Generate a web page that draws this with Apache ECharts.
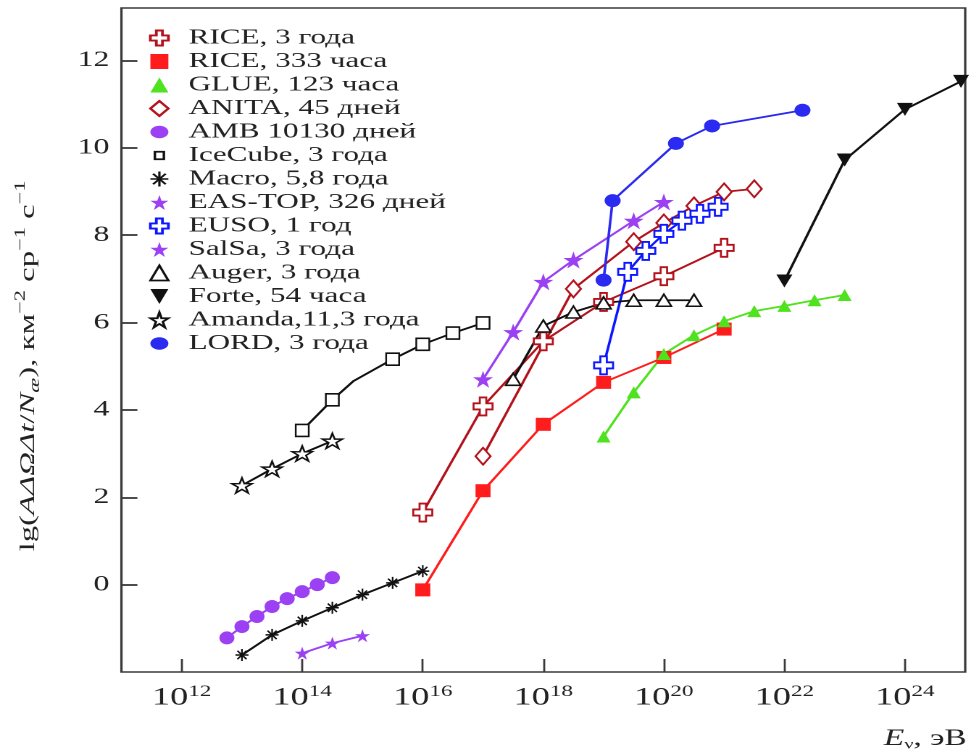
<!DOCTYPE html>
<html>
<head>
<meta charset="utf-8">
<script src="https://cdn.jsdelivr.net/npm/echarts@6/dist/echarts.min.js"></script>
<style>
  html, body { margin: 0; padding: 0; background: #fff; overflow: hidden; }
  #wrap { width: 971px; height: 756px; overflow: hidden; }
  /* the figure uses a wide typeface: the drawing is laid out narrow and widened */
  #chart { width: 670px; height: 756px; transform-origin: 0 0; }
</style>
</head>
<body>
<div id="wrap"><div id="chart"></div></div>
<script>
// x values are lg(E, эВ); y values are lg(AΔΩΔt/Nж)
const riceYearsLgE = [16, 17, 18, 19, 20, 21];
const riceYearsVal = [1.65, 4.08, 5.57, 6.47, 7.06, 7.71];

const rice333LgE = [16, 17, 18, 19, 20, 21];
const rice333Val = [-0.12, 2.15, 3.67, 4.63, 5.2, 5.85];

const glueLgE = [19, 19.5, 20, 20.5, 21, 21.5, 22, 22.5, 23];
const glueVal = [3.39, 4.4, 5.28, 5.71, 6.03, 6.26, 6.38, 6.51, 6.63];

const anitaLgE = [17, 18.5, 19.5, 20, 20.5, 21, 21.5];
const anitaVal = [2.94, 6.77, 7.85, 8.28, 8.67, 8.99, 9.06];

const ambLgE = [12.75, 13, 13.25, 13.5, 13.75, 14, 14.25, 14.5];
const ambVal = [-1.22, -0.96, -0.73, -0.5, -0.32, -0.16, 0.0, 0.16];

const icecubeLgE = [14, 14.5, 14.85, 15.5, 16, 16.5, 17];
const icecubeVal = [3.53, 4.23, 4.66, 5.16, 5.5, 5.76, 5.99];
const icecubeKneeIndex = 2; // vertex of the curve without a measured point

const macroLgE = [13, 13.5, 14, 14.5, 15, 15.5, 16];
const macroVal = [-1.61, -1.15, -0.83, -0.53, -0.23, 0.04, 0.31];

const easTopLgE = [14, 14.5, 15];
const easTopVal = [-1.57, -1.34, -1.17];

const eusoLgE = [19, 19.4, 19.7, 20, 20.3, 20.6, 20.9];
const eusoVal = [5.02, 7.16, 7.64, 8.03, 8.33, 8.49, 8.65];

const salsaLgE = [17, 17.5, 18, 18.5, 19.5, 20];
const salsaVal = [4.7, 5.78, 6.93, 7.43, 8.33, 8.76];

const augerLgE = [17.5, 18, 18.5, 19, 19.5, 20, 20.5];
const augerVal = [4.7, 5.92, 6.24, 6.45, 6.51, 6.51, 6.51];

const forteLgE = [22, 23, 24, 24.93];
const forteVal = [6.95, 9.72, 10.88, 11.52];

const amandaLgE = [13, 13.5, 14, 14.5];
const amandaVal = [2.27, 2.65, 3.0, 3.29];

const lordLgE = [19, 19.15, 20.2, 20.8, 22.3];
const lordVal = [6.97, 8.79, 10.1, 10.5, 10.86];

const seriesNames = [
  'RICE, 3 года', 'RICE, 333 часа', 'GLUE, 123 часа', 'ANITA, 45 дней',
  'AMB 10130 дней', 'IceCube, 3 года', 'Macro, 5,8 года', 'EAS-TOP, 326 дней',
  'EUSO, 1 год', 'SalSa, 3 года', 'Auger, 3 года', 'Forte, 54 часа',
  'Amanda,11,3 года', 'LORD, 3 года'
];

const xTickExps = [12, 14, 16, 18, 20, 22, 24];
const yTickVals = [0, 2, 4, 6, 8, 10, 12];

// ---- layout ----
const W = 971, H = 756, CW = 670;
const S = W / CW;                 // horizontal widening factor
document.getElementById('chart').style.transform = 'scaleX(' + S + ')';
const sx = v => v / S;            // screen px -> layout px (horizontal)

const SERIF = 'Liberation Serif';
const INK = '#222';
const AXIS = '#3a3a3a';
const DRED = '#b3121c', RED = '#ff1c1c', GREEN = '#4fe21e', PURPLE = '#9b40f2',
      BLUE = '#0c16ff', LBLUE = '#2a2af0', BLACK = '#111';

const CROSS = 'path://M3.3,0H6.7V3.3H10V6.7H6.7V10H3.3V6.7H0V3.3H3.3Z';
const STAR = 'path://M50,0L61.2,34.6L97.6,34.5L68.1,55.9L79.4,90.5L50,69L20.6,90.5L31.9,55.9L2.4,34.5L38.8,34.6Z';
const ASTER = 'path://M5,0L5,10M0,5L10,5M1.5,1.5L8.5,8.5M1.5,8.5L8.5,1.5';
const DOWNTRI = 'path://M0,0H10L5,9Z';
const SMALLSQ = 'path://M0,0M16,16M4,4H12V12H4Z';   // small square inside a larger box

function pairs(xs, ys) { return xs.map((x, i) => [x, ys[i]]); }

// name, points, symbol, [w,h] on screen, fill, border, borderWidth, line colour, legend icon
const specs = [
  [seriesNames[0], pairs(riceYearsLgE, riceYearsVal), CROSS, [19, 18], '#fff', DRED, 1.6, DRED],
  [seriesNames[1], pairs(rice333LgE, rice333Val), 'rect', [15, 13], RED, RED, 0, RED],
  [seriesNames[2], pairs(glueLgE, glueVal), 'triangle', [14, 12], GREEN, GREEN, 0, GREEN],
  [seriesNames[3], pairs(anitaLgE, anitaVal), 'diamond', [15, 17], '#fff', DRED, 1.6, DRED],
  [seriesNames[4], pairs(ambLgE, ambVal), 'circle', [15, 13], PURPLE, PURPLE, 0, PURPLE],
  [seriesNames[5], pairs(icecubeLgE, icecubeVal).map((p, i) =>
      i === icecubeKneeIndex ? { value: p, symbol: 'none' } : p),
      'rect', [13, 12], '#fff', BLACK, 1.4, BLACK, SMALLSQ],
  [seriesNames[6], pairs(macroLgE, macroVal), ASTER, [13, 12], BLACK, BLACK, 1.3, BLACK],
  [seriesNames[7], pairs(easTopLgE, easTopVal), STAR, [15, 13], PURPLE, PURPLE, 0, PURPLE],
  [seriesNames[8], pairs(eusoLgE, eusoVal), CROSS, [19, 18], '#fff', BLUE, 1.6, BLUE],
  [seriesNames[9], pairs(salsaLgE, salsaVal), STAR, [20, 17], PURPLE, PURPLE, 0, PURPLE],
  [seriesNames[10], pairs(augerLgE, augerVal), 'triangle', [15, 12], '#fff', BLACK, 1.4, BLACK],
  [seriesNames[11], pairs(forteLgE, forteVal), DOWNTRI, [16, 13], BLACK, BLACK, 0, BLACK],
  [seriesNames[12], pairs(amandaLgE, amandaVal), STAR, [20, 15], '#fff', BLACK, 1.4, BLACK],
  [seriesNames[13], pairs(lordLgE, lordVal), 'circle', [16, 13], LBLUE, LBLUE, 0, LBLUE]
];

const series = specs.map(([name, data, symbol, size, fill, border, bw, lc]) => ({
  name, type: 'line', data, symbol,
  symbolSize: [sx(size[0]), size[1]],
  itemStyle: { color: fill, borderColor: border, borderWidth: bw },
  lineStyle: { color: lc, width: 1.8 },
  emphasis: { disabled: true },
  clip: true,
  z: 3
}));

const legendData = specs.map(([name, , symbol, , fill, border, bw, , icon]) => ({
  name,
  icon: icon || symbol,
  itemStyle: { color: fill, borderColor: border, borderWidth: bw ? bw + 0.3 : 0 }
}));

const plotLeft = sx(121.4), plotRight = CW - sx(966), plotTop = 8, plotBottom = H - 672;

const chart = echarts.init(document.getElementById('chart'), null, { devicePixelRatio: 2 });
chart.setOption({
  animation: false,
  backgroundColor: '#fff',
  grid: {
    show: true, left: plotLeft, right: plotRight, top: plotTop, bottom: plotBottom,
    borderColor: AXIS, borderWidth: 1.6, backgroundColor: 'transparent'
  },
  legend: {
    orient: 'vertical', left: sx(149), top: 27, padding: 0,
    itemWidth: sx(18), itemHeight: 15, itemGap: 1.5,
    symbolKeepAspect: false, selectedMode: false,
    textStyle: { fontFamily: SERIF, fontSize: 21.5, color: INK, lineHeight: 15, padding: [0, 0, 0, sx(13)] },
    data: legendData
  },
  xAxis: {
    type: 'value', min: 11, max: 25, splitNumber: 7,
    axisLine: { show: false, onZero: false }, splitLine: { show: false },
    axisTick: { show: true, inside: true, length: 13, customValues: xTickExps,
                lineStyle: { color: AXIS, width: 1.4 } },
    axisLabel: {
      customValues: xTickExps, margin: 12,
      formatter: v => '{b|10}{s|' + v + '}',
      rich: {
        b: { fontFamily: SERIF, fontSize: 25, color: INK, lineHeight: 28 },
        s: { fontFamily: SERIF, fontSize: 16, color: INK, lineHeight: 22, verticalAlign: 'top' }
      }
    },
    name: '{i|E}{sb|ν}{n|, эВ}',
    nameLocation: 'end', nameGap: 1,
    nameTextStyle: {
      align: 'right', verticalAlign: 'top', padding: [54, 0, 0, 0],
      rich: {
        i: { fontFamily: SERIF, fontStyle: 'italic', fontSize: 23, color: INK, lineHeight: 26 },
        sb: { fontFamily: SERIF, fontSize: 14, color: INK, lineHeight: 26, verticalAlign: 'bottom' },
        n: { fontFamily: SERIF, fontSize: 23, color: INK, lineHeight: 26 }
      }
    }
  },
  yAxis: {
    type: 'value', min: -2, max: 13.2, interval: 2,
    axisLine: { show: false, onZero: false }, splitLine: { show: false },
    axisTick: { show: true, inside: true, length: sx(16), customValues: yTickVals,
                lineStyle: { color: AXIS, width: 1.8 } },
    axisLabel: { customValues: yTickVals, margin: sx(12), fontFamily: SERIF, fontSize: 22, color: INK }
  },
  graphic: [{
    type: 'text',
    x: sx(28), y: 366,
    rotation: Math.PI / 2,
    scaleX: 1.49, scaleY: 1 / S,
    silent: true,
    style: {
      text: '{n|lg(}{i|AΔΩΔt}{n|/}{i|N}{sb|æ}{n|), км}{sp|−2}{n| ср}{sp|−1}{n| с}{sp|−1}',
      align: 'center', verticalAlign: 'middle',
      rich: {
        n: { fontFamily: SERIF, fontSize: 22, fill: INK, lineHeight: 30 },
        i: { fontFamily: SERIF, fontSize: 22, fontStyle: 'italic', fill: INK, lineHeight: 30 },
        sb: { fontFamily: SERIF, fontSize: 15, fontStyle: 'italic', fill: INK, lineHeight: 24, verticalAlign: 'bottom' },
        sp: { fontFamily: SERIF, fontSize: 15, fill: INK, lineHeight: 22, verticalAlign: 'top' }
      }
    }
  }],
  series
});
</script>
</body>
</html>
